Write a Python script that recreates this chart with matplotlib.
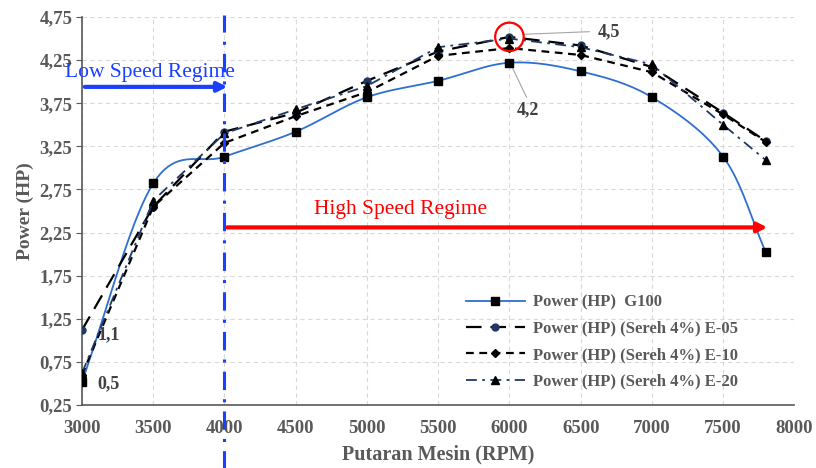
import numpy as np
import matplotlib
matplotlib.use("Agg")
import matplotlib.pyplot as plt
from matplotlib.patches import Ellipse

plt.rcParams['font.family'] = ['Liberation Serif', 'DejaVu Serif']

# data
rpm = [3000, 3500, 4000, 4500, 5000, 5500, 6000, 6500, 7000, 7500, 7800]
g100 = [0.52, 2.82, 3.13, 3.42, 3.82, 4.01, 4.22, 4.12, 3.82, 3.13, 2.02]
e05 = [1.12, 2.55, 3.42, 3.64, 4.01, 4.35, 4.52, 4.42, 4.17, 3.64, 3.31]
e10 = [0.60, 2.55, 3.29, 3.60, 3.88, 4.30, 4.39, 4.31, 4.11, 3.62, 3.30]
e20 = [0.62, 2.62, 3.40, 3.68, 3.95, 4.40, 4.50, 4.40, 4.20, 3.50, 3.09]
labels = ['Power (HP)  G100', 'Power (HP) (Sereh 4%) E-05',
          'Power (HP) (Sereh 4%) E-10', 'Power (HP) (Sereh 4%) E-20']
yticks = [0.25, 0.75, 1.25, 1.75, 2.25, 2.75, 3.25, 3.75, 4.25, 4.75]
xticks = [3000, 3500, 4000, 4500, 5000, 5500, 6000, 6500, 7000, 7500, 8000]


def smooth(x, y, n=20):
    # Catmull-Rom curve through the points (like Excel's smoothed line)
    x = np.asarray(x, float)
    y = np.asarray(y, float)
    px = np.r_[2 * x[0] - x[1], x, 2 * x[-1] - x[-2]]
    py = np.r_[2 * y[0] - y[1], y, 2 * y[-1] - y[-2]]
    xs, ys = [], []
    t = np.linspace(0, 1, n)
    for i in range(1, len(px) - 2):
        for p, out in ((px, xs), (py, ys)):
            p0, p1, p2, p3 = p[i - 1], p[i], p[i + 1], p[i + 2]
            out.extend(0.5 * ((2 * p1) + (-p0 + p2) * t +
                              (2 * p0 - 5 * p1 + 4 * p2 - p3) * t ** 2 +
                              (-p0 + 3 * p1 - 3 * p2 + p3) * t ** 3))
    return xs, ys


fig = plt.figure(figsize=(8.16, 4.68), dpi=100)
ax = fig.add_axes([0.1005, 0.1346, 0.873, 0.829])

grey = '#595959'
navy = '#1f3864'

sx, sy = smooth(rpm, g100)
ax.plot(sx, sy, color='#2e6fd0', lw=1.3, zorder=3)
ax.plot(rpm, g100, ls='none', marker='s', ms=6, color='black', zorder=4)
ax.plot([], [], color='#2e6fd0', lw=1.3, marker='s', ms=6, mfc='black',
        mec='black', label=labels[0])

ax.plot(rpm, e05, color='black', lw=1.6, dashes=(7, 4), marker='o', ms=5,
        mfc=navy, mec=navy, label=labels[1], zorder=4)
ax.plot(rpm, e10, color='black', lw=1.6, dashes=(3.5, 2.5), marker='D', ms=4,
        mfc='black', mec='black', label=labels[2], zorder=4)
ax.plot(rpm, e20, color=navy, lw=1.3, dashes=(6, 3, 1.5, 3), marker='^', ms=6,
        mfc='black', mec='black', label=labels[3], zorder=4)

ax.set_xlim(3000, 8000)
ax.set_ylim(0.25, 4.75)
ax.set_xticks(xticks)
ax.set_yticks(yticks)
ax.set_yticklabels([f'{v:.2f}'.replace('.', ',') for v in yticks])
ax.tick_params(axis='both', labelsize=13.5, colors=grey, labelcolor=grey)
ax.tick_params(axis='x', length=0, pad=11)
ax.tick_params(axis='y', length=4, direction='out', pad=3)
for lab in ax.get_xticklabels() + ax.get_yticklabels():
    lab.set_fontweight('bold')
ax.grid(True, ls=(0, (4, 3)), color='#d9d9d9', lw=0.8)
ax.set_axisbelow(True)
for s in ['top', 'right']:
    ax.spines[s].set_visible(False)
for s in ['left', 'bottom']:
    ax.spines[s].set_color(grey)
    ax.spines[s].set_linewidth(1.2)

ax.set_xlabel('Putaran Mesin (RPM)', fontsize=14.5, fontweight='bold', color=grey, labelpad=5)
ax.set_ylabel('Power (HP)', fontsize=14, fontweight='bold', color=grey, labelpad=4)

# regime markers
ax.axvline(4000, ymin=-0.165, ymax=1.005, color='#1a3fff', lw=2.2,
           ls=(0, (6, 3, 1, 3)), clip_on=False, zorder=5)
ax.annotate('', xy=(4040, 3.94), xytext=(3000, 3.94),
            arrowprops=dict(arrowstyle='-|>', color='#1a3fff', lw=3, mutation_scale=14),
            annotation_clip=False)
ax.text(2880, 4.11, 'Low Speed Regime', color='#1a3fff', fontsize=15.5,
        ha='left', va='center', clip_on=False)
ax.annotate('', xy=(7830, 2.31), xytext=(4000, 2.31),
            arrowprops=dict(arrowstyle='-|>', color='#ff0000', lw=3, mutation_scale=14),
            annotation_clip=False)
ax.text(5237, 2.52, 'High Speed Regime', color='#ff0000', fontsize=15.5,
        ha='center', va='center')

# value callouts
ax.add_patch(Ellipse((6000, 4.52), 200, 0.33, fill=False, ec='#ff0000', lw=1.6, zorder=6))
ax.plot([6100, 6560], [4.55, 4.58], color='#a6a6a6', lw=0.8)
ax.text(6620, 4.58, '4,5', fontsize=13, fontweight='bold', color='#404040', va='center')
ax.plot([6010, 6120], [4.20, 3.82], color='#a6a6a6', lw=0.8)
ax.text(6130, 3.68, '4,2', fontsize=13, fontweight='bold', color='#404040', ha='center', va='center')
ax.text(3110, 1.07, '1,1', fontsize=13, fontweight='bold', color='#404040', va='center')
ax.text(3110, 0.5, '0,5', fontsize=13, fontweight='bold', color='#404040', va='center')

leg = ax.legend(loc='upper left', bbox_to_anchor=(0.53, 0.302), frameon=False,
                prop={'weight': 'bold', 'size': 12}, handlelength=3.5,
                handletextpad=0.5, labelspacing=0.62, borderaxespad=0)
for t in leg.get_texts():
    t.set_color(grey)

fig.savefig('out.png', dpi=100)
